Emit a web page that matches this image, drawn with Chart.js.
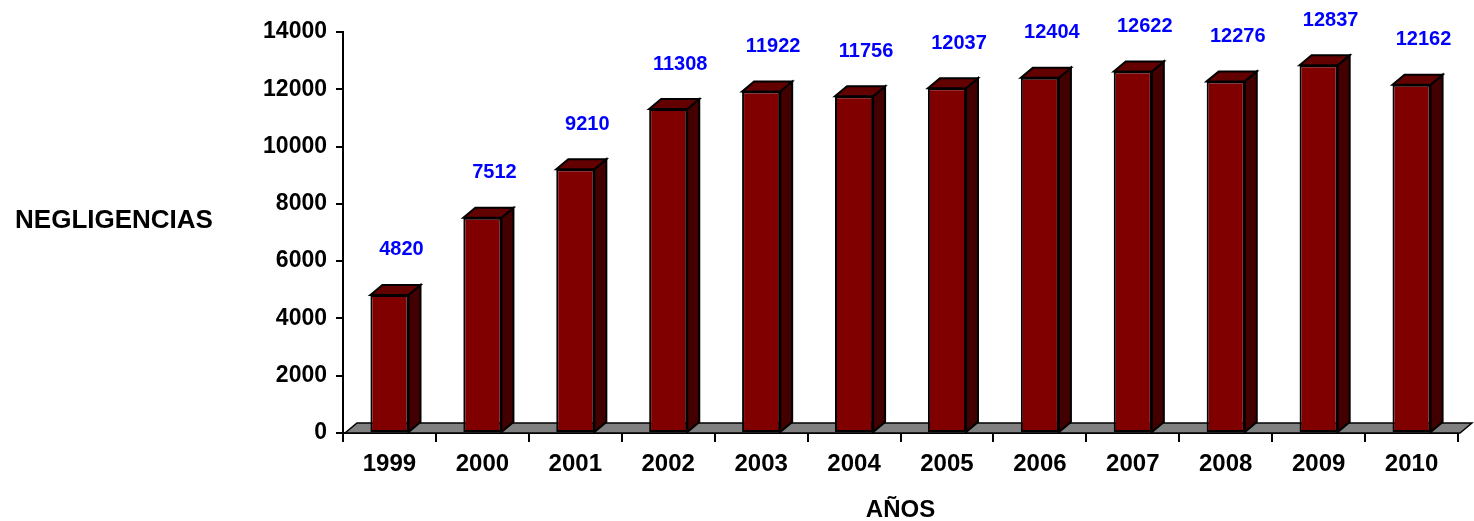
<!DOCTYPE html>
<html>
<head>
<meta charset="utf-8">
<script src="https://cdn.jsdelivr.net/npm/chart.js@4.4.1/dist/chart.umd.min.js"></script>
<style>
  html, body { margin: 0; padding: 0; background: #fff; }
  #wrap { width: 1474px; height: 521px; }
</style>
</head>
<body>
<div id="wrap"><canvas id="myChart" width="1474" height="521"></canvas></div>
<script>
var years = ['1999','2000','2001','2002','2003','2004','2005','2006','2007','2008','2009','2010'];
var negligencias = [4820, 7512, 9210, 11308, 11922, 11756, 12037, 12404, 12622, 12276, 12837, 12162];
var yTicks = [0, 2000, 4000, 6000, 8000, 10000, 12000, 14000];

var depthX = 12, depthY = 10;
var fontFam = "Arial, 'Liberation Sans', sans-serif";

// floor, side/top faces, value labels and the horizontal y title
var box3d = {
  id: 'box3d',
  beforeDatasetsDraw: function(chart) {
    var c = chart.ctx, a = chart.chartArea;
    c.save();
    c.beginPath();
    c.moveTo(a.left + 2, a.bottom);
    c.lineTo(a.right + 2, a.bottom);
    c.lineTo(a.right + 2 + depthX, a.bottom - depthY);
    c.lineTo(a.left + 2 + depthX, a.bottom - depthY);
    c.closePath();
    c.fillStyle = '#808080';
    c.fill();
    c.lineWidth = 1.5;
    c.strokeStyle = '#000';
    c.stroke();
    c.restore();
  },
  afterDatasetsDraw: function(chart) {
    var c = chart.ctx;
    var meta = chart.getDatasetMeta(0);
    c.save();
    c.lineWidth = 2;
    c.strokeStyle = '#000';
    c.lineJoin = 'miter';
    meta.data.forEach(function(bar, i) {
      var L = bar.x - bar.width / 2, R = bar.x + bar.width / 2;
      var t = bar.y, b = bar.base;
      // side
      c.beginPath();
      c.moveTo(R, t);
      c.lineTo(R + depthX, t - depthY);
      c.lineTo(R + depthX, b - depthY);
      c.lineTo(R, b);
      c.closePath();
      c.fillStyle = '#420000';
      c.fill();
      c.stroke();
      // top
      c.beginPath();
      c.moveTo(L, t);
      c.lineTo(L + depthX, t - depthY);
      c.lineTo(R + depthX, t - depthY);
      c.lineTo(R, t);
      c.closePath();
      c.fillStyle = '#630000';
      c.fill();
      c.stroke();
      // value label
      c.fillStyle = '#0000ff';
      c.font = 'bold 20px ' + fontFam;
      c.textAlign = 'center';
      c.textBaseline = 'middle';
      c.fillText(negligencias[i], bar.x + 12, t - 45);
    });
    c.fillStyle = '#000';
    c.font = 'bold 26px ' + fontFam;
    c.textAlign = 'center';
    c.textBaseline = 'middle';
    c.fillText('NEGLIGENCIAS', 114, 221);
    c.restore();
  }
};

var ctx = document.getElementById('myChart').getContext('2d');
var myChart = new Chart(ctx, {
  type: 'bar',
  data: {
    labels: years,
    datasets: [{
      label: 'NEGLIGENCIAS',
      data: negligencias,
      backgroundColor: '#800000',
      borderColor: '#000',
      borderWidth: 2,
      borderSkipped: false,
      barPercentage: 0.41,
      categoryPercentage: 1
    }]
  },
  options: {
    responsive: false,
    animation: false,
    layout: { padding: { top: 32, right: 16, left: 0, bottom: 0 } },
    plugins: { legend: { display: false }, tooltip: { enabled: false } },
    scales: {
      x: {
        offset: true,
        grid: { offset: true, drawOnChartArea: false, drawTicks: true, tickLength: 9, color: '#000', lineWidth: 2 },
        border: { display: true, color: '#000', width: 2 },
        ticks: { color: '#000', font: { family: fontFam, size: 24, weight: 'bold' }, padding: 8, maxRotation: 0 },
        title: { display: true, text: 'AÑOS', color: '#000', font: { family: fontFam, size: 24, weight: 'bold' }, padding: { top: 4, bottom: -4 } },
        afterFit: function(s) { s.height = 88; }
      },
      y: {
        min: 0,
        max: 14000,
        afterBuildTicks: function(s) { s.ticks = yTicks.map(function(v) { return { value: v }; }); },
        grid: { drawOnChartArea: false, drawTicks: true, tickLength: 7, color: '#000', lineWidth: 2 },
        border: { display: true, color: '#000', width: 2 },
        ticks: {
          color: '#000',
          font: { family: fontFam, size: 23, weight: 'bold' },
          padding: 9,
          callback: function(v) { return String(v); }
        },
        afterFit: function(s) { s.width = 343; }
      }
    }
  },
  plugins: [box3d]
});
</script>
</body>
</html>
